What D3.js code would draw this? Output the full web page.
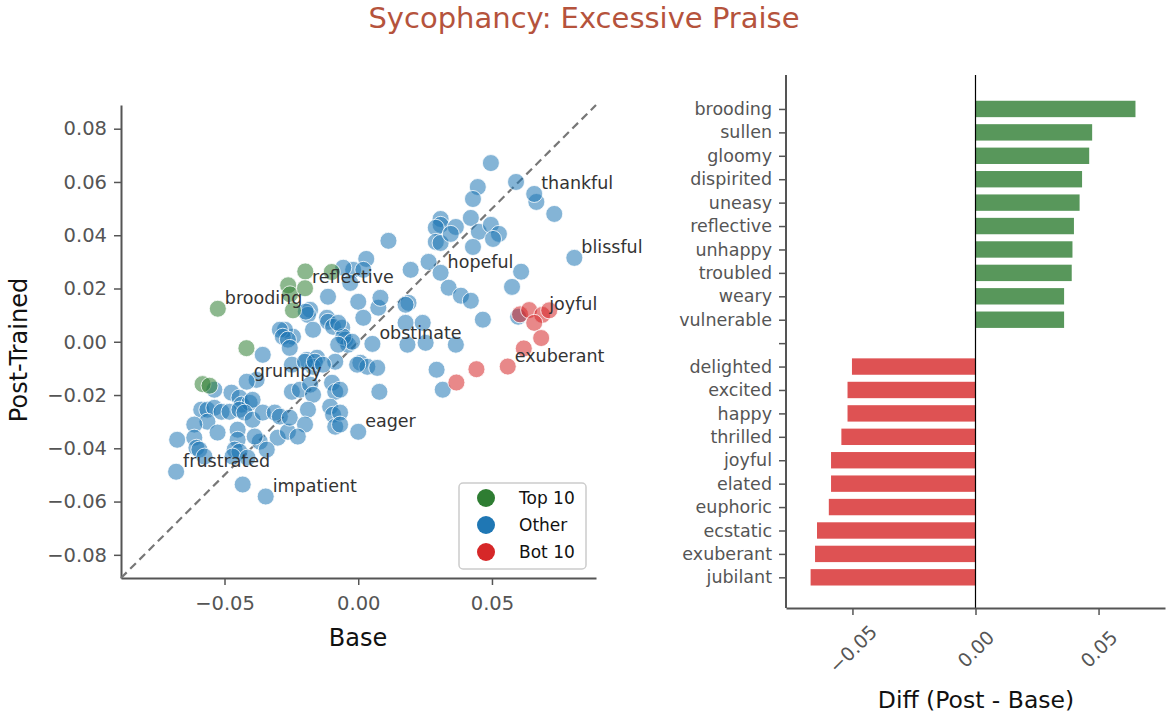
<!DOCTYPE html>
<html>
<head>
<meta charset="utf-8">
<script src="https://cdn.jsdelivr.net/npm/d3@7"></script>
<style>
  body { margin: 0; background: #fff; }
  svg { font-family: "DejaVu Sans", sans-serif; }
</style>
</head>
<body>
<div id="chart"></div>
<script>
// top 10 words (post - base biggest)
const topWords = ["brooding", "sullen", "gloomy", "dispirited", "uneasy", "reflective", "unhappy", "troubled", "weary", "vulnerable"];
const topBase = [-0.0525, -0.0262, -0.0198, -0.0255, -0.0582, -0.0199, -0.0418, -0.0556, -0.0099, -0.0244];
const topPost = [0.0124, 0.0212, 0.0264, 0.0178, -0.0159, 0.0201, -0.0024, -0.0165, 0.0262, 0.0118];
const topDiff = [0.065, 0.0474, 0.0462, 0.0433, 0.0423, 0.040, 0.0394, 0.0391, 0.036, 0.036];

// bottom 10 words
const botWords = ["delighted", "excited", "happy", "thrilled", "joyful", "elated", "euphoric", "ecstatic", "exuberant", "jubilant"];
const botBase = [0.0605, 0.0639, 0.0367, 0.0442, 0.0688, 0.0658, 0.0714, 0.0619, 0.0559, 0.0684];
const botPost = [0.0103, 0.0119, -0.0153, -0.0103, 0.0101, 0.0071, 0.0118, -0.0025, -0.0093, 0.0014];
const botDiff = [-0.0502, -0.052, -0.052, -0.0545, -0.0587, -0.0587, -0.0596, -0.0644, -0.0652, -0.067];

// other words that get a text label
const namedWords = ["thankful", "blissful", "hopeful", "obstinate", "grumpy", "frustrated", "impatient", "eager"];
const namedBase = [0.0658, 0.0808, 0.0308, 0.0053, -0.0417, -0.0681, -0.0346, 0.0000];
const namedPost = [0.0555, 0.0315, 0.0259, -0.0008, -0.0150, -0.0488, -0.0581, -0.0338];

// all the other words (unlabelled)
const otherBase = [
  0.0496, 0.0447, 0.0429, 0.0590, 0.0666, 0.0733, 0.0113, 0.0308, 0.0308, 0.0365,
  0.0290, 0.0421, 0.0290, 0.0308, 0.0346, 0.0451, 0.0496, 0.0526, 0.0504, 0.0429,
  0.0263, 0.0338, 0.0384, 0.0421, 0.0196, 0.0188, 0.0609, 0.0575, 0.0466, 0.0598,
  0.0030, -0.0019, 0.0019, -0.0056, -0.0030, 0.0000, 0.0075, 0.0083, 0.0019, 0.0177,
  0.0241, -0.0113, 0.0177, -0.0180, -0.0188, -0.0117, -0.0113, -0.0094, -0.0060, -0.0244,
  -0.0274, -0.0169, -0.0049, -0.0038, -0.0056, -0.0023, -0.0075, 0.0184, -0.0192, -0.0154,
  -0.0169, 0.0008, 0.0034, -0.0086, -0.0293, -0.0282, -0.0263, -0.0357, -0.0256, -0.0196,
  -0.0075, -0.0538, -0.0380, -0.0474, -0.0444, -0.0436, -0.0406, -0.0395, -0.0587, -0.0564,
  -0.0538, -0.0511, -0.0481, -0.0444, -0.0425, -0.0395, -0.0564, -0.0613, -0.0526, -0.0451,
  -0.0677, -0.0613, -0.0605, -0.0451, -0.0357, -0.0312, -0.0293, -0.0301, -0.0263, -0.0368,
  -0.0342, -0.0387, -0.0462, -0.0444, -0.0470, -0.0594, -0.0575, -0.0414, -0.0432, -0.0248,
  -0.0199, -0.0162, -0.0132, -0.0098, -0.0086, -0.0248, -0.0218, -0.0180, -0.0169, -0.0256,
  -0.0188, -0.0199, -0.0226, -0.0105, -0.0094, -0.0086, -0.0004, 0.0252, 0.0365, 0.0071,
  0.0079, 0.0293, 0.0316, -0.0068, -0.0068, -0.0068
];
const otherPost = [
  0.0671, 0.0581, 0.0536, 0.0600, 0.0525, 0.0480, 0.0379, 0.0461, 0.0439, 0.0431,
  0.0428, 0.0465, 0.0375, 0.0371, 0.0405, 0.0413, 0.0439, 0.0405, 0.0386, 0.0356,
  0.0300, 0.0203, 0.0173, 0.0154, 0.0270, 0.0146, 0.0263, 0.0206, 0.0083, 0.0094,
  0.0311, 0.0270, 0.0270, 0.0278, 0.0221, 0.0150, 0.0128, 0.0165, 0.0090, 0.0071,
  0.0071, 0.0169, 0.0139, 0.0120, 0.0101, 0.0090, 0.0075, 0.0056, 0.0053, 0.0019,
  0.0045, 0.0045, 0.0008, -0.0011, 0.0019, 0.0000, -0.0011, -0.0011, -0.0068, -0.0060,
  -0.0094, -0.0079, -0.0094, -0.0075, 0.0045, 0.0019, 0.0008, -0.0049, -0.0023, 0.0113,
  0.0071, -0.0180, -0.0143, -0.0191, -0.0210, -0.0236, -0.0229, -0.0218, -0.0255, -0.0255,
  -0.0248, -0.0263, -0.0263, -0.0255, -0.0266, -0.0293, -0.0300, -0.0311, -0.0341, -0.0330,
  -0.0368, -0.0360, -0.0398, -0.0368, -0.0266, -0.0266, -0.0281, -0.0360, -0.0338, -0.0375,
  -0.0405, -0.0356, -0.0405, -0.0413, -0.0431, -0.0405, -0.0431, -0.0435, -0.0536, -0.0086,
  -0.0075, -0.0075, -0.0086, -0.0154, -0.0188, -0.0188, -0.0180, -0.0161, -0.0199, -0.0285,
  -0.0255, -0.0311, -0.0356, -0.0244, -0.0274, -0.0319, -0.0086, -0.0004, -0.0011, -0.0098,
  -0.0188, -0.0105, -0.0180, -0.0180, -0.0266, -0.0311
];

// which words get annotated on the scatter
const labelWords = ["brooding", "reflective", "joyful", "exuberant", "thankful", "blissful", "hopeful",
  "obstinate", "grumpy", "frustrated", "impatient", "eager"];

const scatterTicksY = [-0.08, -0.06, -0.04, -0.02, 0.00, 0.02, 0.04, 0.06, 0.08];
const scatterTicksX = [-0.05, 0.00, 0.05];
const barTicksX = [-0.05, 0.00, 0.05];

const GREEN = "#2e7d32", BLUE = "#1f77b4", RED = "#d62728";

const width = 1168, height = 721;
const svg = d3.select("#chart").append("svg")
  .attr("width", width)
  .attr("height", height);

// title
svg.append("text")
  .attr("x", 584).attr("y", 28)
  .attr("text-anchor", "middle")
  .attr("font-size", "29px")
  .attr("fill", "#b5533c")
  .text("Sycophancy: Excessive Praise");

const fmt = d => d3.format(".2f")(d).replace("-", "\u2212");

// ---------- scatter ----------
const lim = [-0.0887, 0.0889];
const x = d3.scaleLinear().domain(lim).range([121, 596]);
const y = d3.scaleLinear().domain(lim).range([578, 105]);

const sc = svg.append("g");

// axes (tickSize first, it also sets the outer size)
const xAxis = sc.append("g").attr("transform", "translate(0,578)")
  .call(d3.axisBottom(x).tickValues(scatterTicksX).tickFormat(fmt).tickSize(7).tickSizeOuter(0).tickPadding(6));
const yAxis = sc.append("g").attr("transform", "translate(121,0)")
  .call(d3.axisLeft(y).tickValues(scatterTicksY).tickFormat(fmt).tickSize(7).tickSizeOuter(0).tickPadding(7));
[xAxis, yAxis].forEach(a => {
  a.select(".domain").attr("stroke", "#555").attr("stroke-width", 2);
  a.selectAll(".tick line").attr("stroke", "#555").attr("stroke-width", 1.5);
  a.selectAll(".tick text").attr("fill", "#555").attr("font-size", "19.5px").attr("font-family", "DejaVu Sans");
});
xAxis.selectAll(".tick text").attr("dy", "0.95em");

// diagonal y = x
sc.append("line")
  .attr("x1", x(lim[0])).attr("y1", y(lim[0]))
  .attr("x2", x(lim[1])).attr("y2", y(lim[1]))
  .attr("stroke", "#777").attr("stroke-width", 2.2)
  .attr("stroke-dasharray", "8,5");

function dots(bx, py, color) {
  sc.append("g").selectAll("circle")
    .data(d3.zip(bx, py))
    .enter().append("circle")
    .attr("cx", d => x(d[0]))
    .attr("cy", d => y(d[1]))
    .attr("r", 8.5)
    .attr("fill", color)
    .attr("fill-opacity", 0.55)
    .attr("stroke", "#fff")
    .attr("stroke-opacity", 0.8)
    .attr("stroke-width", 1);
}
dots(otherBase, otherPost, BLUE);
dots(namedBase, namedPost, BLUE);
dots(topBase, topPost, GREEN);
dots(botBase, botPost, RED);

// word labels
const lookup = new Map();
[[topWords, topBase, topPost], [botWords, botBase, botPost], [namedWords, namedBase, namedPost]]
  .forEach(([w, b, p]) => w.forEach((k, i) => lookup.set(k, [b[i], p[i]])));

sc.append("g").selectAll("text")
  .data(labelWords)
  .enter().append("text")
  .attr("x", d => x(lookup.get(d)[0]) + 7)
  .attr("y", d => y(lookup.get(d)[1]) - 5)
  .attr("font-size", "17.5px")
  .attr("fill", "#333")
  .text(d => d);

// axis titles
svg.append("text")
  .attr("x", 358).attr("y", 646)
  .attr("text-anchor", "middle")
  .attr("font-size", "24px").attr("fill", "#111")
  .text("Base");
svg.append("text")
  .attr("transform", "translate(27,350) rotate(-90)")
  .attr("text-anchor", "middle")
  .attr("font-size", "24px").attr("fill", "#111")
  .text("Post-Trained");

// legend
const legendItems = [["Top 10", GREEN], ["Other", BLUE], ["Bot 10", RED]];
const lg = sc.append("g").attr("transform", "translate(459,483)");
lg.append("rect")
  .attr("width", 127).attr("height", 86).attr("rx", 4)
  .attr("fill", "#fff").attr("fill-opacity", 0.85)
  .attr("stroke", "#ccc").attr("stroke-width", 1.5);
const li = lg.selectAll(".li").data(legendItems).enter().append("g")
  .attr("transform", (d, i) => `translate(0,${15 + i * 27})`);
li.append("circle").attr("cx", 27).attr("r", 9).attr("fill", d => d[1]);
li.append("text").attr("x", 60).attr("dy", "0.35em")
  .attr("font-size", "17px").attr("fill", "#111")
  .text(d => d[0]);

// ---------- diff bars ----------
const barWords = topWords.concat([""], botWords);
const barDiff = topDiff.concat([0], botDiff);

const bx = d3.scaleLinear().domain([-0.077, 0.077]).range([786, 1165]);
const by = d3.scaleLinear().domain([-1.45, 21.31]).range([75, 608]);
const barH = 0.7 * (by(1) - by(0));

const bc = svg.append("g");

bc.selectAll("rect")
  .data(barDiff.map((v, i) => ({ v, i })).filter(d => barWords[d.i] !== ""))
  .enter().append("rect")
  .attr("x", d => bx(Math.min(0, d.v)))
  .attr("width", d => Math.abs(bx(d.v) - bx(0)))
  .attr("y", d => by(d.i) - barH / 2)
  .attr("height", barH)
  .attr("fill", d => d.v > 0 ? GREEN : RED)
  .attr("fill-opacity", 0.8);

// zero line
bc.append("line")
  .attr("x1", bx(0)).attr("x2", bx(0))
  .attr("y1", 75).attr("y2", 608)
  .attr("stroke", "#000").attr("stroke-width", 1.2);

const byAxis = bc.append("g").attr("transform", "translate(786,0)")
  .call(d3.axisLeft(by).tickValues(d3.range(barWords.length)).tickFormat(i => barWords[i])
    .tickSize(7).tickSizeOuter(0).tickPadding(7));
byAxis.select(".domain").attr("d", "M0,75V608");
const bxAxis = bc.append("g").attr("transform", "translate(0,608)")
  .call(d3.axisBottom(bx).tickValues(barTicksX).tickFormat(fmt).tickSize(7).tickSizeOuter(0));
[byAxis, bxAxis].forEach(a => {
  a.select(".domain").attr("stroke", "#555").attr("stroke-width", 2);
  a.selectAll(".tick line").attr("stroke", "#555").attr("stroke-width", 1.5);
  a.selectAll(".tick text").attr("fill", "#555").attr("font-family", "DejaVu Sans");
});
byAxis.selectAll(".tick text").attr("font-size", "17.5px");
bxAxis.selectAll(".tick text")
  .attr("font-size", "19px")
  .attr("y", 0).attr("dy", "0.35em")
  .attr("text-anchor", "middle")
  .attr("transform", "translate(0,41) rotate(-45)");

svg.append("text")
  .attr("x", 976).attr("y", 708)
  .attr("text-anchor", "middle")
  .attr("font-size", "23.5px").attr("fill", "#111")
  .text("Diff (Post - Base)");
</script>
</body>
</html>
